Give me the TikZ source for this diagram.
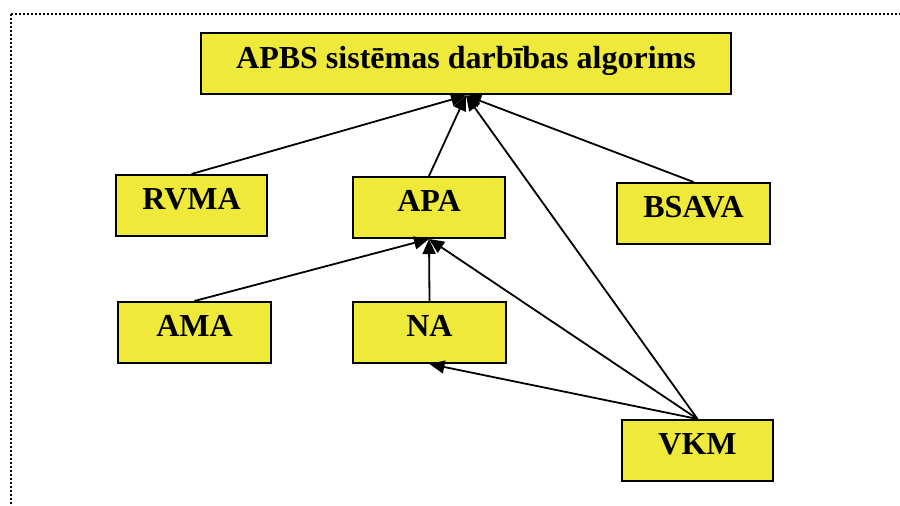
\documentclass[tikz,border=0pt]{standalone}
\usepackage{fontspec}
\setmainfont{Liberation Serif}
\usetikzlibrary{arrows.meta}
\definecolor{boxyellow}{RGB}{239,234,58}
\begin{document}
\begin{tikzpicture}[x=0.5pt,y=-0.5pt,
  block/.style={draw=black,line width=1pt,fill=boxyellow,inner sep=0pt,
    font=\fontsize{16}{18}\selectfont\bfseries,
    text height=17.5pt,text depth=13pt,align=center},
  link/.style={line width=0.9pt,-{Triangle[length=7.5pt,width=6.5pt]}}]
\useasboundingbox (0,0) rectangle (900,506);
% dotted frame, running past the right and bottom edges
\begin{scope}
  \clip (0,0) rectangle (900,506);
  \draw[line width=1pt,dash pattern=on 1pt off 1pt] (11,14) rectangle (910,520);
\end{scope}
% blocks
\node[block,minimum width=265pt] (top) at (466,64) {APBS sistēmas darbības algorims};
\node[block,minimum width=75.5pt] (rvma) at (191.5,205.5) {RVMA};
\node[block,minimum width=76pt] (apa) at (429,207.5) {APA};
\node[block,minimum width=76.5pt] (bsava) at (693.5,213.5) {BSAVA};
\node[block,minimum width=76.5pt] (ama) at (194.5,332.5) {AMA};
\node[block,minimum width=76.5pt] (na) at (429.5,332.5) {NA};
\node[block,minimum width=75.5pt] (vkm) at (697.5,450.5) {VKM};
% connectors
\draw[link] (rvma.north) -- (top.south);
\draw[link] (apa.north) -- (top.south);
\draw[link] (bsava.north) -- (top.south);
\draw[link] (vkm.north) -- (top.south);
\draw[link] (ama.north) -- (apa.south);
\draw[link] (na.north) -- (apa.south);
\draw[link] (vkm.north) -- (apa.south);
\draw[link] (vkm.north) -- (na.south);
\end{tikzpicture}
\end{document}
